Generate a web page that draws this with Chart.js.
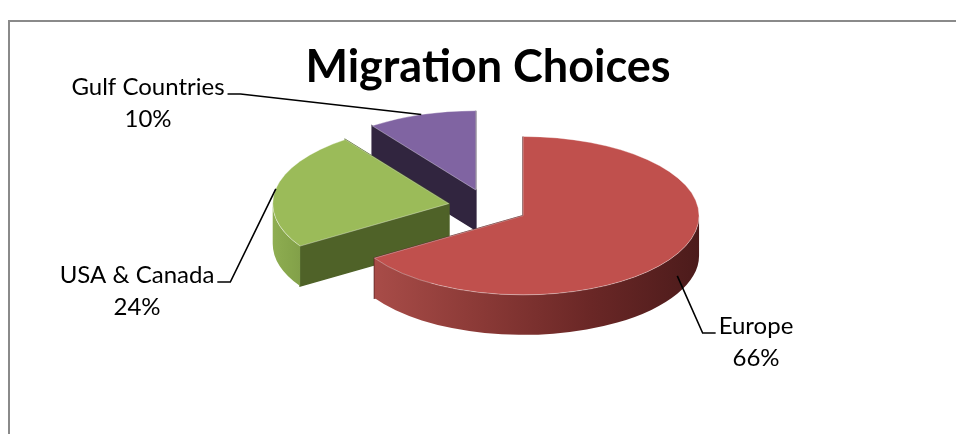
<!DOCTYPE html>
<html>
<head>
<meta charset="utf-8">
<script src="https://cdn.jsdelivr.net/npm/chart.js@4.4.1/dist/chart.umd.min.js"></script>
<style>
  html, body { margin: 0; padding: 0; background: #ffffff; overflow: hidden; }
  #wrap { position: relative; width: 956px; height: 434px; }
  #frame {
    position: absolute; left: 8px; top: 20px; width: 960px; height: 430px;
    border-top: 2px solid #8a8a8a; border-left: 2px solid #8a8a8a;
  }
  #migration-chart { position: absolute; left: 0; top: 0; }
</style>
</head>
<body>
<div id="wrap">
  <div id="frame"></div>
  <canvas id="migration-chart" width="956" height="434"></canvas>
</div>
<script>
// Migration destinations, share of respondents (%)
const categories = ['Europe', 'USA & Canada', 'Gulf Countries'];
const shares = [66, 24, 10];

// Palette: top face, cut face, outer rim (gradient stops)
const TOP_COLORS = ['#c0504d', '#9bbb59', '#8064a2'];
const CUT_COLORS = ['#5a1f1f', '#4f6228', '#31253f'];
const RIM_STOPS = [
    ['#a84c48', '#8a3936', '#6a2726', '#4c1b1b'],
    ['#8fae52', '#8aa94e', '#86a54b', '#82a049'],
    ['#3a2c4a', '#3a2c4a', '#3a2c4a', '#3a2c4a']
];

// 3D look
const TILT = 0.45;      // vertical squash of the pie disc
const DEPTH = 40;       // thickness of the disc in px
const EXPLODE = 40;     // distance each slice is pulled out

// Where each data label sits (centre x, baseline y) and which side its leader stub leaves from
const LABEL_LAYOUT = [
    { x: 756, y: 334, stub: 'left',  anchorDepth: 0.55 },
    { x: 137, y: 283, stub: 'right', anchorDepth: 0 },
    { x: 148, y: 95,  stub: 'right', anchorDepth: 0 }
];

const LABEL_FONT = '24px Lato, "Open Sans", sans-serif';
const LINE_GAP = 32;

// Geometry of one exploded, tilted slice taken from the library's arc element
function sliceGeometry(arc) {
    const p = arc.getProps(['x', 'y', 'startAngle', 'endAngle', 'outerRadius'], true);
    const mid = (p.startAngle + p.endAngle) / 2;
    return {
        ax: p.x + Math.cos(mid) * EXPLODE,
        ay: p.y + Math.sin(mid) * EXPLODE * TILT,
        rx: p.outerRadius,
        ry: p.outerRadius * TILT,
        a0: p.startAngle,
        a1: p.endAngle,
        mid: mid
    };
}

function rimPoint(g, angle, drop) {
    return {
        x: g.ax + g.rx * Math.cos(angle),
        y: g.ay + g.ry * Math.sin(angle) + (drop || 0)
    };
}

function drawCutFace(ctx, g, angle, color) {
    const p = rimPoint(g, angle);
    ctx.beginPath();
    ctx.moveTo(g.ax, g.ay);
    ctx.lineTo(p.x, p.y);
    ctx.lineTo(p.x, p.y + DEPTH);
    ctx.lineTo(g.ax, g.ay + DEPTH);
    ctx.closePath();
    ctx.fillStyle = color;
    ctx.strokeStyle = color;
    ctx.lineWidth = 1.5;
    ctx.fill();
    ctx.stroke();
}

function drawRim(ctx, g, stops) {
    // only the front half of the rim (angles 0..PI) faces the viewer
    const ranges = [];
    for (let k = -1; k <= 1; k++) {
        const lo = Math.max(g.a0, k * 2 * Math.PI);
        const hi = Math.min(g.a1, k * 2 * Math.PI + Math.PI);
        if (hi > lo) ranges.push([lo, hi]);
    }
    ranges.forEach(([lo, hi]) => {
        const pl = rimPoint(g, hi);
        const pr = rimPoint(g, lo);
        const grad = ctx.createLinearGradient(Math.min(pl.x, pr.x), 0, Math.max(pl.x, pr.x), 0);
        stops.forEach((c, i) => grad.addColorStop(i / (stops.length - 1), c));
        ctx.beginPath();
        ctx.ellipse(g.ax, g.ay, g.rx, g.ry, 0, lo, hi, false);
        ctx.lineTo(pl.x, pl.y + DEPTH);
        ctx.ellipse(g.ax, g.ay + DEPTH, g.rx, g.ry, 0, hi, lo, true);
        ctx.closePath();
        ctx.fillStyle = grad;
        ctx.fill();
    });
}

function drawTop(ctx, g, color) {
    ctx.beginPath();
    ctx.moveTo(g.ax, g.ay);
    ctx.ellipse(g.ax, g.ay, g.rx, g.ry, 0, g.a0, g.a1, false);
    ctx.closePath();
    ctx.fillStyle = color;
    ctx.fill();
    ctx.strokeStyle = 'rgba(255,255,255,0.35)';
    ctx.lineWidth = 1;
    ctx.stroke();
}

// Replaces the flat pie with tilted, extruded slices
const tiltedPie = {
    id: 'tiltedPie',
    beforeDatasetsDraw(chart) {
        const ctx = chart.ctx;
        const arcs = chart.getDatasetMeta(0).data;
        const geoms = arcs.map(sliceGeometry);
        // paint back slices first
        const order = geoms.map((g, i) => i).sort((a, b) => geoms[a].ay - geoms[b].ay);
        ctx.save();
        order.forEach(i => {
            const g = geoms[i];
            const startVisible = Math.cos(g.a0) < -0.001;
            const endVisible = Math.cos(g.a1) > 0.001;
            // hidden cut faces first, then visible ones
            if (!startVisible) drawCutFace(ctx, g, g.a0, CUT_COLORS[i]);
            if (!endVisible) drawCutFace(ctx, g, g.a1, CUT_COLORS[i]);
            if (startVisible) drawCutFace(ctx, g, g.a0, CUT_COLORS[i]);
            if (endVisible) drawCutFace(ctx, g, g.a1, CUT_COLORS[i]);
            drawRim(ctx, g, RIM_STOPS[i]);
            drawTop(ctx, g, TOP_COLORS[i]);
        });
        ctx.restore();
        return false;
    },
    afterDraw(chart) {
        const ctx = chart.ctx;
        const arcs = chart.getDatasetMeta(0).data;
        const labels = chart.data.labels;
        const values = chart.data.datasets[0].data;
        ctx.save();
        ctx.font = LABEL_FONT;
        ctx.fillStyle = '#000000';
        ctx.textAlign = 'center';
        ctx.textBaseline = 'alphabetic';
        arcs.forEach((arc, i) => {
            const g = sliceGeometry(arc);
            const lay = LABEL_LAYOUT[i];
            const name = labels[i];
            const pct = values[i] + '%';
            ctx.fillText(name, lay.x, lay.y);
            ctx.fillText(pct, lay.x, lay.y + LINE_GAP);

            const w = ctx.measureText(name).width;
            const stubY = lay.y - 1;
            const x0 = lay.stub === 'left' ? lay.x - w / 2 - 3 : lay.x + w / 2 + 3;
            const x1 = lay.stub === 'left' ? x0 - 13 : x0 + 13;
            const tip = rimPoint(g, g.mid, DEPTH * lay.anchorDepth);
            ctx.beginPath();
            ctx.moveTo(x0, stubY);
            ctx.lineTo(x1, stubY);
            ctx.lineTo(tip.x, tip.y);
            ctx.strokeStyle = '#000000';
            ctx.lineWidth = 1.6;
            ctx.stroke();
        });
        ctx.restore();
    }
};

const canvas = document.getElementById('migration-chart');
new Chart(canvas, {
    type: 'pie',
    data: {
        labels: categories,
        datasets: [{
            data: shares,
            backgroundColor: TOP_COLORS,
            borderWidth: 0
        }]
    },
    options: {
        responsive: false,
        animation: false,
        events: [],
        radius: 176,
        layout: {
            padding: { top: 40, left: 40, right: 20, bottom: 126 }
        },
        plugins: {
            legend: { display: false },
            tooltip: { enabled: false },
            title: {
                display: true,
                text: 'Migration Choices',
                color: '#000000',
                font: { family: 'Lato, "Open Sans", sans-serif', size: 45, weight: 'bold', lineHeight: 1.2 },
                padding: { top: 0, bottom: 12 }
            }
        }
    },
    plugins: [tiltedPie]
});
</script>
</body>
</html>
